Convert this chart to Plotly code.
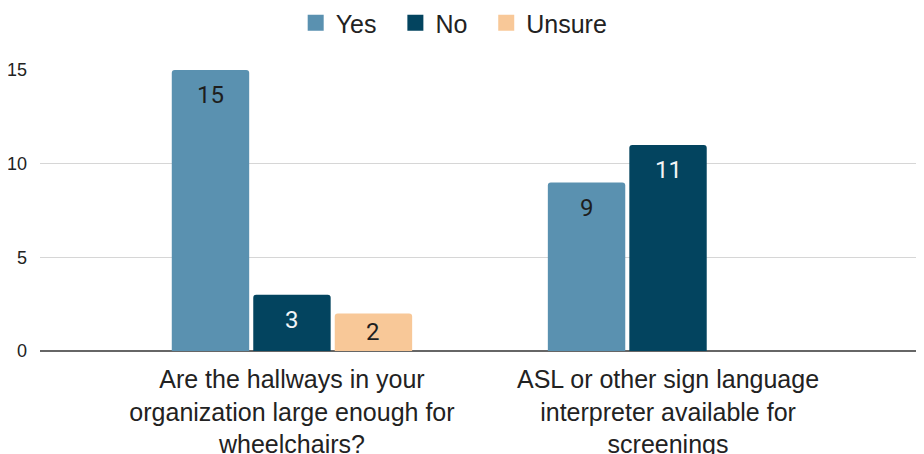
import plotly.graph_objects as go

categories = ["Are the hallways in your<br>organization large enough for<br>wheelchairs?",
              "ASL or other sign language<br>interpreter available for<br>screenings"]
yes_vals = [15, 9]
no_vals = [3, 11]
unsure_vals = [2, None]
tick_vals = [0, 5, 10, 15]

series = [
    ("Yes", yes_vals, "#5a91b0", "#1e1e1e"),
    ("No", no_vals, "#03445f", "#f2f4f6"),
    ("Unsure", unsure_vals, "#f8c898", "#1e1e1e"),
]

BARGAP = 0.35
GROUPGAP = 0.05
LABEL_DROP = 1.35  # data units below bar top for the label centre

fig = go.Figure()
n = len(series)
slot = (1 - BARGAP) / n
annotations = []
for i, (name, vals, color, tcol) in enumerate(series):
    fig.add_trace(go.Bar(
        name=name, x=categories, y=vals, showlegend=False, legendgroup=name,
        marker=dict(color=color, cornerradius=3, line=dict(width=0)),
    ))
    for ci, v in enumerate(vals):
        if v is None:
            continue
        annotations.append(dict(
            x=ci + (i - (n - 1) / 2) * slot, y=max(v - LABEL_DROP, v / 2),
            xref="x", yref="y", text=str(v), showarrow=False,
            xanchor="center", yanchor="middle",
            font=dict(family="Roboto, Arial, sans-serif", size=24, color=tcol),
        ))

# legend entries (larger square swatches like the original)
for name, vals, color, tcol in series:
    fig.add_trace(go.Scatter(
        x=[None], y=[None], mode="markers", name=name + "\u00a0\u00a0",
        legendgroup=name,
        marker=dict(symbol="square", size=18, color=color),
    ))

fig.update_layout(
    width=924, height=454,
    margin=dict(l=32, r=9, t=62, b=111, autoexpand=False),
    barmode="group", bargap=BARGAP, bargroupgap=GROUPGAP,
    paper_bgcolor="white", plot_bgcolor="white",
    font=dict(family="Liberation Sans, Arial, sans-serif", color="#222222"),
    legend=dict(orientation="h", x=0.477, xanchor="center", y=1.167, yanchor="middle",
                yref="paper", font=dict(size=25, color="#222222"),
                itemwidth=30, itemsizing="trace", traceorder="normal"),
    showlegend=True,
    annotations=annotations,
)
fig.update_xaxes(range=[-0.67, 1.678], showgrid=False, tickfont=dict(size=25, color="#222222"),
                 ticks="", showline=False, automargin=False, ticklabelstandoff=11)
fig.update_yaxes(range=[0, 15], tickvals=tick_vals, showgrid=True, gridcolor="#d6d6d6",
                 gridwidth=1, zeroline=True, zerolinecolor="#666666", zerolinewidth=2,
                 tickfont=dict(size=18, color="#222222"), ticks="", ticklabelstandoff=12,
                 automargin=False)

fig.write_html("out.html")
